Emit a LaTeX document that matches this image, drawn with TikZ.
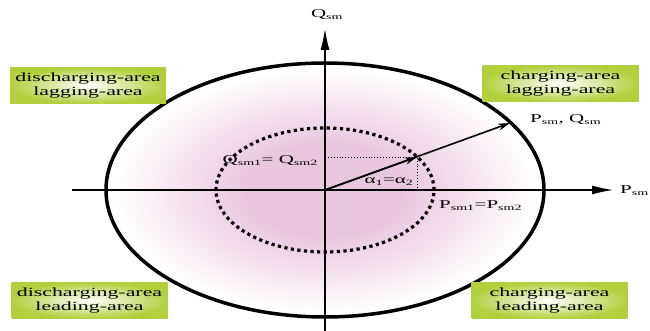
\documentclass[tikz,border=0pt]{standalone}
\usepackage{fontspec}
\setmainfont{Liberation Serif}[FakeStretch=1.75]
\usetikzlibrary{arrows.meta,positioning}
\definecolor{lime}{RGB}{178,208,62}
\definecolor{rose}{RGB}{234,198,222}
\pgfdeclareradialshading{roseglow}{\pgfpoint{0bp}{0bp}}{color(0bp)=(rose); color(9bp)=(rose); color(24bp)=(white); color(50bp)=(white)}
\tikzset{
  area/.style={inner color=white,outer color=lime,minimum width=156pt,minimum height=36pt,align=center,inner sep=0pt,font=\fontsize{12.5}{14}\selectfont},
  lbl/.style={inner sep=1pt,font=\fontsize{12}{14}\selectfont},
  ax/.style={line width=2pt,-{Latex[length=22pt,width=9pt]}},
  vec/.style={line width=1.6pt,-{Stealth[length=12pt,width=7pt]}},
  guide/.style={dotted,line width=0.9pt},
}

\begin{document}
\begin{tikzpicture}[x=1pt,y=-1pt]
\useasboundingbox (0,0) rectangle (650,331);
\coordinate (O) at (325,190);
\coordinate (xl) at (72,190); \coordinate (xr) at (614,190);
\coordinate (yb) at (325,331); \coordinate (yt) at (325,28);
\coordinate (tip) at (510,123); \coordinate (mid) at (417,157);
\coordinate (qm) at (325,157); \coordinate (pm) at (417,190);
% power circle
\shade[shading=roseglow] (O) ellipse [x radius=219pt,y radius=127pt];
\draw[line width=3.5pt] (O) ellipse [x radius=219pt,y radius=127pt];
\draw[line width=3.2pt,dash pattern=on 3.2pt off 3.4pt] (O) ellipse [x radius=109pt,y radius=62pt];
\draw[ax] (xl) -- (xr);
\draw[ax] (yb) -- (yt);
\draw[guide] (qm) -- (mid) -- (pm);
\draw[vec] (O) -- (tip);
\draw[vec] (O) -- (mid);
\node[lbl] (qlab) at (327,15) {Q\textsubscript{sm}};
\node[lbl,anchor=west] (plab) at (619,191) {P\textsubscript{sm}};
\node[lbl,anchor=west] (vlab) at (529,120) {P\textsubscript{sm}, Q\textsubscript{sm}};
\node[lbl,anchor=east] (q12) at (319,161) {Q\textsubscript{sm1}= Q\textsubscript{sm2}};
\node[lbl] (a12) at (389,182) {α\textsubscript{1}=α\textsubscript{2}};
\node[lbl,anchor=west] (p12) at (438,206) {P\textsubscript{sm1}=P\textsubscript{sm2}};
% quadrant boxes
\node[area] (dlag) at (88,85.5) {discharging-area\\lagging-area};
\node[area] (clag) at (560.5,83.5) {charging-area\\lagging-area};
\node[area] (dlead) at (89.5,300.5) {discharging-area\\leading-area};
\node[area] (clead) at (549.5,300.5) {charging-area\\leading-area};
\end{tikzpicture}
\end{document}
